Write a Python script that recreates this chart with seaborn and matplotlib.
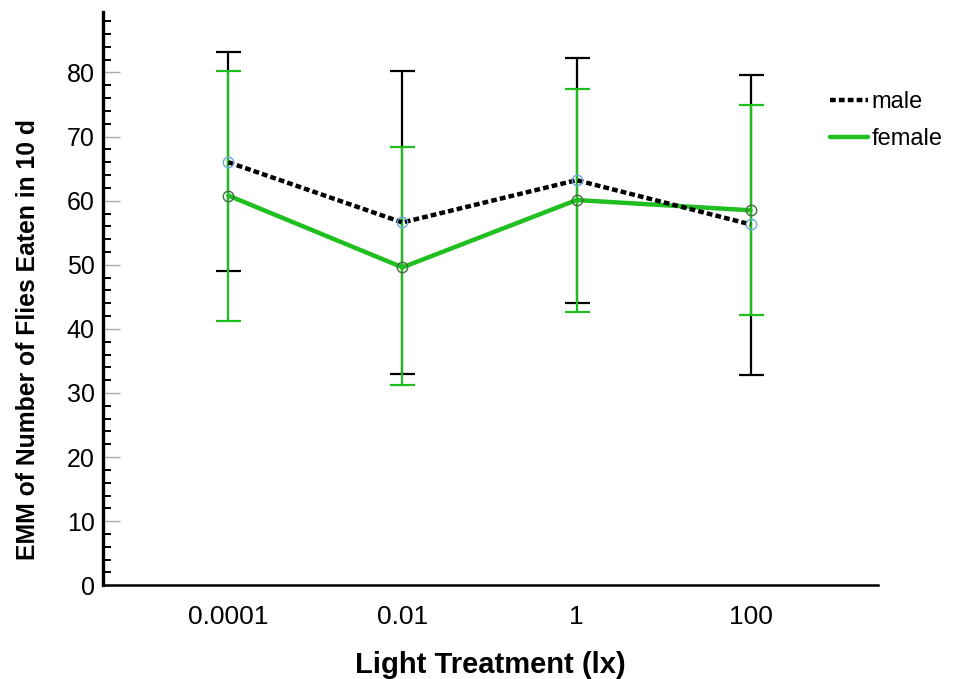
import matplotlib
matplotlib.use("Agg")
import matplotlib.pyplot as plt
import numpy as np
import pandas as pd
import seaborn as sns
from matplotlib.lines import Line2D
from matplotlib.ticker import MultipleLocator

# Estimated marginal means with 95% CI
light = ["0.0001", "0.01", "1", "100"]

male_mean = [66.0, 56.6, 63.2, 56.3]
male_lo = [49.0, 32.9, 44.1, 32.8]
male_hi = [83.2, 80.3, 82.2, 79.6]

female_mean = [60.8, 49.6, 60.1, 58.5]
female_lo = [41.2, 31.2, 42.7, 42.1]
female_hi = [80.3, 68.3, 77.5, 74.9]

GREEN = "#1fbf1f"

sns.set_style("ticks")
plt.rcParams["font.family"] = ["Liberation Sans", "DejaVu Sans"]
plt.rcParams["text.color"] = "black"
plt.rcParams["axes.labelcolor"] = "black"
plt.rcParams["xtick.labelcolor"] = "black"
plt.rcParams["ytick.labelcolor"] = "black"

fig = plt.figure(figsize=(9.54, 6.79), dpi=100)
ax = fig.add_axes([0.108, 0.138, 0.812, 0.844])

df_m = pd.DataFrame({"light": light, "emm": male_mean})
df_f = pd.DataFrame({"light": light, "emm": female_mean})

# error bars first (male under female)
pos = np.arange(len(light))
ax.errorbar(pos, male_mean,
            yerr=[np.subtract(male_mean, male_lo), np.subtract(male_hi, male_mean)],
            fmt="none", ecolor="black", elinewidth=1.6, capsize=9, capthick=1.6, zorder=2)
ax.errorbar(pos, female_mean,
            yerr=[np.subtract(female_mean, female_lo), np.subtract(female_hi, female_mean)],
            fmt="none", ecolor=GREEN, elinewidth=1.6, capsize=9, capthick=1.6, zorder=3)

sns.pointplot(data=df_f, x="light", y="emm", color=GREEN, errorbar=None,
              markers="o", linestyles="-", ax=ax)
ln_f = ax.lines[-1]
ln_f.set(linewidth=3.2, markersize=7.5, markerfacecolor="none",
         markeredgecolor="#3f6f3f", markeredgewidth=1.0, zorder=4)

sns.pointplot(data=df_m, x="light", y="emm", color="black", errorbar=None,
              markers="o", linestyles=":", ax=ax)
ln_m = ax.lines[-1]
ln_m.set(linewidth=3.2, linestyle=(0, (1.3, 0.7)), markersize=7.5, markerfacecolor="none",
         markeredgecolor="#6fa8dc", markeredgewidth=1.0, zorder=5)

ax.set_xlim(-0.72, 3.73)
ax.set_ylim(0, 89.4)

# axes styling
for s in ["top", "right"]:
    ax.spines[s].set_visible(False)
ax.spines["left"].set_linewidth(2.4)
ax.spines["left"].set_color("black")
ax.spines["bottom"].set_linewidth(1.8)
ax.spines["bottom"].set_color("black")

ax.yaxis.set_major_locator(MultipleLocator(10))
ax.yaxis.set_minor_locator(MultipleLocator(2))
ax.tick_params(axis="y", which="major", direction="in", length=12, width=1,
               color="#aaaaaa", labelsize=18, pad=6)
ax.tick_params(axis="y", which="minor", direction="in", length=6, width=1.4, color="black")
ax.tick_params(axis="x", which="major", length=0, labelsize=19, pad=14)

ax.set_xlabel("Light Treatment (lx)", fontsize=21, fontweight="bold", labelpad=16)
ax.set_ylabel("EMM of Number of Flies Eaten in 10 d", fontsize=17.8, fontweight="bold")
# SPSS centres the y title on the whole figure, not the axes
ax.yaxis.set_label_coords(0.042, 0.5, transform=fig.transFigure)

handles = [
    Line2D([0], [0], color="black", lw=3.2, linestyle=(0, (1.3, 0.7))),
    Line2D([0], [0], color=GREEN, lw=3.2),
]
fig.legend(handles, ["male", "female"], loc="upper left", bbox_to_anchor=(0.86, 0.88),
           frameon=False, fontsize=17, handlelength=1.6, handletextpad=0.15,
           labelspacing=0.65, borderaxespad=0)

fig.savefig("out.png", dpi=100)
